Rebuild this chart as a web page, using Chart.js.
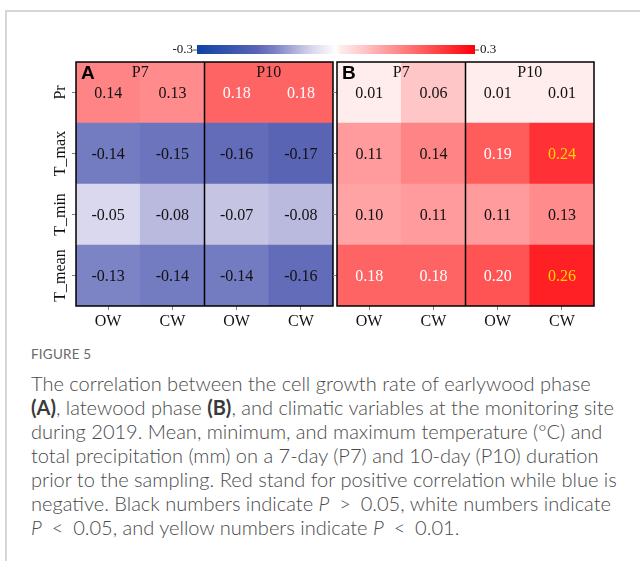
<!DOCTYPE html>
<html>
<head>
<meta charset="utf-8">
<script src="https://cdn.jsdelivr.net/npm/chart.js@4.4.1/dist/chart.umd.min.js"></script>
<style>
  html, body { margin:0; padding:0; background:#fff; width:640px; height:561px; overflow:hidden; }
  #card { position:absolute; left:5px; top:10px; width:640px; height:560px; border-left:2px solid #d6d6d6; border-top:2px solid #d6d6d6; box-sizing:border-box; }
  canvas { position:absolute; left:0; top:0; }
  #figlabel { position:absolute; left:31px; top:346px; font-family:'Lato'; font-size:13.5px; color:#6a6a6a; letter-spacing:0.2px; white-space:nowrap; }
  #caption { position:absolute; left:31px; top:371px; font-family:'Lato'; font-weight:300; color:#4a4a4a; line-height:24px; white-space:nowrap; }
  #caption b { color:#3a3a3a; font-weight:700; }
  .rel { display:inline-block; padding:0 0.22em; }
</style>
</head>
<body>
<div id="card"></div>
<canvas id="chartA" width="640" height="340"></canvas>
<canvas id="chartB" width="640" height="340"></canvas>
<div id="figlabel">FIGURE 5</div>
<div id="caption">
  <div id="l1">The correlation between the cell growth rate of earlywood phase</div>
  <div><b>(A)</b>, latewood phase <b>(B)</b>, and climatic variables at the monitoring site</div>
  <div>during 2019. Mean, minimum, and maximum temperature (°C) and</div>
  <div>total precipitation (mm) on a 7-day (P7) and 10-day (P10) duration</div>
  <div>prior to the sampling. Red stand for positive correlation while blue is</div>
  <div>negative. Black numbers indicate <i>P</i> <span class="rel">&gt;</span> 0.05, white numbers indicate</div>
  <div><i>P</i> <span class="rel">&lt;</span> 0.05, and yellow numbers indicate <i>P</i> <span class="rel">&lt;</span> 0.01.</div>
</div>
<script>
// ---------------- data ----------------
const rows = ['Pr', 'T_max', 'T_min', 'T_mean'];
const cols = ['OW', 'CW', 'OW', 'CW'];
const periods = ['P7', 'P10'];
const panelLetters = ['A', 'B'];
const earlywood = [
  [0.14, 0.13, 0.18, 0.18],
  [-0.14, -0.15, -0.16, -0.17],
  [-0.05, -0.08, -0.07, -0.08],
  [-0.13, -0.14, -0.14, -0.16]
];
const latewood = [
  [0.01, 0.06, 0.01, 0.01],
  [0.11, 0.14, 0.19, 0.24],
  [0.10, 0.11, 0.11, 0.13],
  [0.18, 0.18, 0.20, 0.26]
];
const earlywoodSig = [
  ['ns', 'ns', 'p05', 'p05'],
  ['ns', 'ns', 'ns', 'ns'],
  ['ns', 'ns', 'ns', 'ns'],
  ['ns', 'ns', 'ns', 'ns']
];
const latewoodSig = [
  ['ns', 'ns', 'ns', 'ns'],
  ['ns', 'ns', 'p05', 'p01'],
  ['ns', 'ns', 'ns', 'ns'],
  ['p05', 'p05', 'p05', 'p01']
];
const colorbarTicks = [-0.3, 0.3];

// ---------------- styles ----------------
const textColors = { ns: '#111111', p05: '#ffffff', p01: '#ffd400' };
const negStops = [[0, [255,255,255]], [0.05, [218,216,238]], [0.08, [186,186,222]], [0.13, [124,132,197]], [0.17, [90,100,180]], [0.3, [16,66,166]]];
const posStops = [[0, [255,255,255]], [0.01, [255,236,236]], [0.06, [255,198,200]], [0.10, [255,163,165]], [0.18, [255,100,100]], [0.26, [255,32,38]], [0.3, [255,0,10]]];
function colorFor(v) {
  const stops = v < 0 ? negStops : posStops;
  const a = Math.min(Math.abs(v), 0.3);
  for (let i = 1; i < stops.length; i++) {
    if (a <= stops[i][0]) {
      const [t0, c0] = stops[i-1], [t1, c1] = stops[i];
      const f = (a - t0) / (t1 - t0);
      const c = c0.map((k, n) => Math.round(k + (c1[n] - k) * f));
      return `rgb(${c[0]},${c[1]},${c[2]})`;
    }
  }
  const c = stops[stops.length-1][1];
  return `rgb(${c[0]},${c[1]},${c[2]})`;
}

const SERIF = '"Liberation Serif", "Times New Roman", serif';

function makeDecor(values, sig, letter, withYLabels, withColorbar) {
  return {
    id: 'heatDecor' + letter,
    afterDatasetsDraw(chart) {
      const ctx = chart.ctx;
      ctx.save();
      ctx.font = '16px ' + SERIF;
      ctx.textAlign = 'center';
      ctx.textBaseline = 'middle';
      chart.data.datasets.forEach((ds, di) => {
        const meta = chart.getDatasetMeta(di);
        meta.data.forEach((el, j) => {
          const p = el.getProps(['x', 'y', 'base'], true);
          const v = values[ds.rowIndex][j];
          ctx.fillStyle = textColors[sig[ds.rowIndex][j]];
          ctx.fillText(v.toFixed(2), p.x, (p.y + p.base) / 2 + 1);
        });
      });
      ctx.restore();
    },
    afterDraw(chart) {
      const ctx = chart.ctx;
      const { left, right, top, bottom } = chart.chartArea;
      const xs = chart.scales.x, ys = chart.scales.y;
      const perGroup = cols.length / periods.length;
      ctx.save();
      // frame
      ctx.strokeStyle = '#000';
      ctx.lineWidth = 1.5;
      ctx.strokeRect(left, top, right - left, bottom - top);
      for (let g = 1; g < periods.length; g++) {
        const x = (xs.getPixelForValue(g * perGroup - 1) + xs.getPixelForValue(g * perGroup)) / 2;
        ctx.beginPath(); ctx.moveTo(x, top); ctx.lineTo(x, bottom); ctx.stroke();
      }
      // period headers
      ctx.fillStyle = '#111';
      ctx.font = '16px ' + SERIF;
      ctx.textAlign = 'center';
      ctx.textBaseline = 'middle';
      periods.forEach((p, g) => {
        const x = (xs.getPixelForValue(g * perGroup) + xs.getPixelForValue(g * perGroup + perGroup - 1)) / 2;
        ctx.fillText(p, x, top + 10.5);
      });
      // panel letter
      ctx.font = 'bold 19px "Liberation Sans", Arial, sans-serif';
      ctx.textAlign = 'left';
      ctx.textBaseline = 'alphabetic';
      ctx.fillStyle = '#000';
      ctx.fillText(letter, left + 5, top + 17);
      // y labels (rotated)
      if (withYLabels) {
        ctx.font = '16px ' + SERIF;
        ctx.textAlign = 'center';
        ctx.textBaseline = 'middle';
        ctx.fillStyle = '#111';
        rows.forEach((r, ri) => {
          const y = ys.getPixelForValue(rows.length - 1 - ri + 0.5);
          ctx.save();
          ctx.translate(61, y);
          ctx.rotate(-Math.PI / 2);
          ctx.fillText(r, 0, 0);
          ctx.restore();
        });
      }
      // colorbar
      if (withColorbar) {
        const x0 = 197, x1 = 475, cy = 45, ch = 9;
        const lo = colorbarTicks[0], hi = colorbarTicks[colorbarTicks.length - 1];
        for (let px = x0; px < x1; px++) {
          const v = lo + (px - x0 + 0.5) / (x1 - x0) * (hi - lo);
          ctx.fillStyle = colorFor(v);
          ctx.fillRect(px, cy, 1, ch);
        }
        ctx.strokeStyle = '#555';
        ctx.lineWidth = 1;
        ctx.font = '13px ' + SERIF;
        ctx.fillStyle = '#111';
        ctx.textBaseline = 'middle';
        colorbarTicks.forEach(t => {
          const x = x0 + (t - lo) / (hi - lo) * (x1 - x0);
          const leftSide = t === lo;
          ctx.beginPath();
          ctx.moveTo(leftSide ? x - 4 : x, cy + ch / 2 + 0.5);
          ctx.lineTo(leftSide ? x : x + 4, cy + ch / 2 + 0.5);
          ctx.stroke();
          ctx.textAlign = leftSide ? 'right' : 'left';
          ctx.fillText(String(t), leftSide ? x - 4 : x + 5, cy + ch / 2);
        });
      }
      ctx.restore();
    }
  };
}

function buildChart(id, values, sig, letter, geom) {
  const datasets = rows.map((r, ri) => ri).reverse().map(ri => ({
    label: rows[ri],
    rowIndex: ri,
    data: cols.map(() => 1),
    backgroundColor: values[ri].map(colorFor),
    borderWidth: 0,
    barPercentage: 1,
    categoryPercentage: 1
  }));
  return new Chart(document.getElementById(id), {
    type: 'bar',
    data: { labels: cols, datasets },
    options: {
      responsive: false,
      animation: false,
      devicePixelRatio: 1,
      layout: { padding: { left: geom.padL, right: geom.padR, top: 62, bottom: 0 } },
      plugins: { legend: { display: false }, tooltip: { enabled: false } },
      scales: {
        x: {
          stacked: true,
          offset: true,
          grid: { offset: false, drawOnChartArea: false, tickLength: 4, color: '#808080' },
          border: { display: false },
          ticks: { font: { family: SERIF, size: 16 }, color: '#111', padding: 2, maxRotation: 0, minRotation: 0 },
          afterFit: s => { s.height = 34; }
        },
        y: {
          stacked: true,
          min: 0,
          max: rows.length,
          grid: { drawOnChartArea: false, tickLength: 4, color: '#808080' },
          border: { display: false },
          ticks: { display: false },
          afterBuildTicks: s => { s.ticks = rows.map((_, i) => ({ value: i + 0.5 })); },
          afterFit: s => { s.width = geom.yW; }
        }
      }
    },
    plugins: [makeDecor(values, sig, letter, geom.yLabels, geom.colorbar)]
  });
}

buildChart('chartA', earlywood, earlywoodSig, panelLetters[0], { padL: 0, padR: 307, yW: 76, yLabels: true, colorbar: true });
buildChart('chartB', latewood, latewoodSig, panelLetters[1], { padL: 330, padR: 46, yW: 7, yLabels: false, colorbar: false });

// caption sizing: fit first line to measured reference width
(function fitCaption() {
  const cap = document.getElementById('caption');
  const l1 = document.getElementById('l1');
  cap.style.fontSize = '100px';
  const span = document.createElement('span');
  span.textContent = l1.textContent;
  l1.textContent = '';
  l1.appendChild(span);
  const sw = span.getBoundingClientRect().width;
  cap.style.fontSize = (100 * 560 / sw).toFixed(2) + 'px';
})();
</script>
</body>
</html>
